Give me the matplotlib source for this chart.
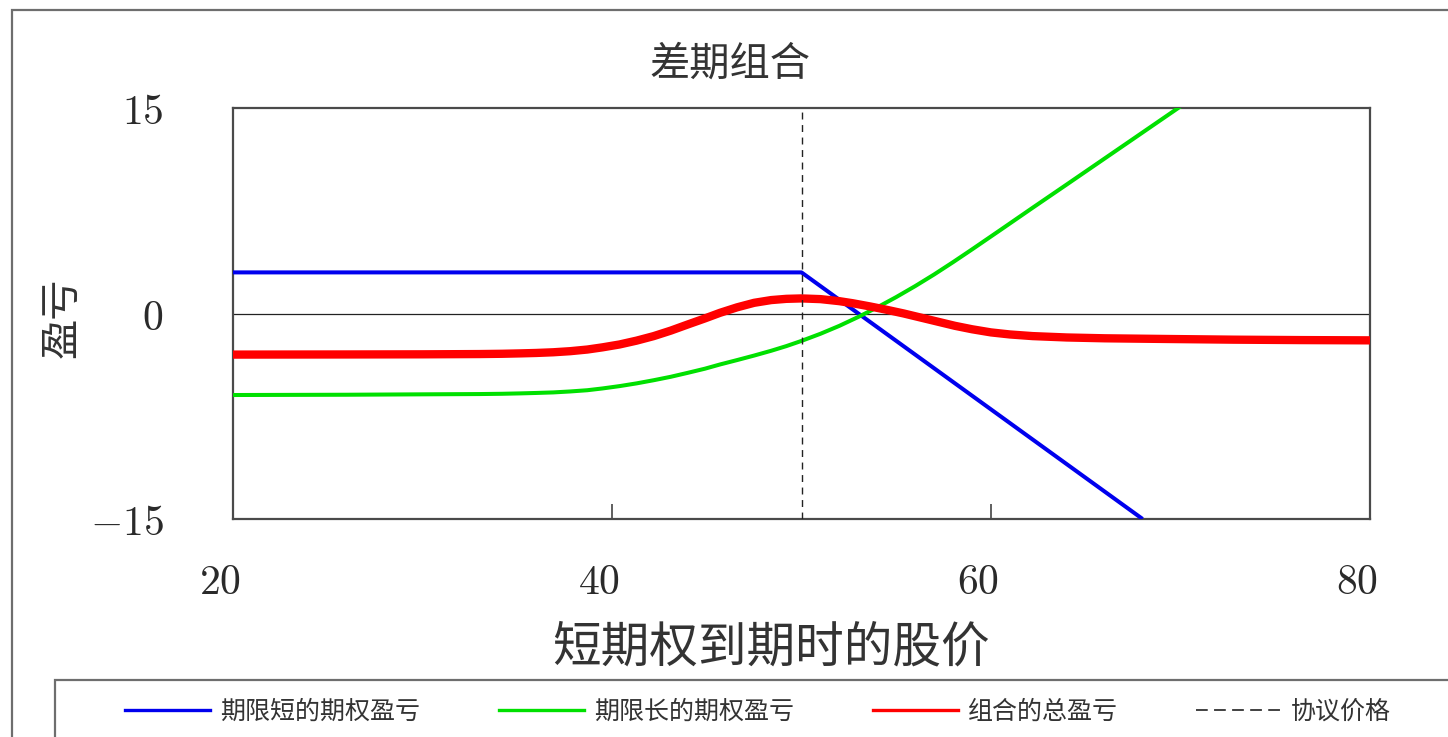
import matplotlib
matplotlib.use("Agg")
import matplotlib.pyplot as plt
from matplotlib.lines import Line2D
from matplotlib.patches import Rectangle
from matplotlib.transforms import ScaledTranslation

# data
strike = 50

x_short = [20, 50, 68]
short_pl = [3, 3, -15]

x_long = [20, 26, 30, 33, 34.2, 35.2, 36.0, 36.9, 37.8, 38.7, 39.5, 40.4, 41.3, 42.2, 43.1, 44.0, 44.9,
          45.7, 46.6, 47.5, 48.4, 49.2, 50.0, 51.0, 52.0, 53.0, 54.0, 55.0, 56.0, 57.0, 58.0,
          59.0, 60.5, 62.2, 64.0, 65.75, 67.5, 69.3, 70.3]
long_pl = [-5.95, -5.93, -5.9, -5.88, -5.86, -5.83, -5.8, -5.76, -5.69, -5.6, -5.47, -5.3, -5.1, -4.87, -4.62,
           -4.33, -4.03, -3.72, -3.4, -3.07, -2.72, -2.38, -2.0, -1.48, -0.9, -0.25, 0.45, 1.2, 2.0,
           2.85, 3.75, 4.68, 6.1, 7.72, 9.42, 11.08, 12.74, 14.45, 15.4]

x_total = [20, 26, 30, 33, 34.2, 35.2, 36.0, 36.9, 37.8, 38.7, 39.5, 40.4, 41.3, 42.2, 43.1, 44.0, 44.9,
           45.7, 46.6, 47.5, 48.4, 49.2, 50.0, 51.0, 52.0, 52.7, 53.6, 54.5, 55.4, 56.3, 57.2,
           58.1, 59.0, 60.0, 61.0, 62.2, 64.0, 66.0, 69.3, 72.8, 76.3, 80]
total_pl = [-3.0, -2.99, -2.98, -2.96, -2.94, -2.91, -2.88, -2.83, -2.75, -2.63, -2.47, -2.26, -1.98, -1.65,
            -1.25, -0.8, -0.36, 0.05, 0.45, 0.78, 0.98, 1.07, 1.1, 1.05, 0.9, 0.75, 0.52, 0.27, 0.0, -0.3,
            -0.6, -0.9, -1.15, -1.38, -1.53, -1.65, -1.75, -1.81, -1.86, -1.91, -1.94, -1.96]

x_ticks = [20, 40, 60, 80]
y_ticks = [-15, 0, 15]

title = "差期组合"
x_label = "短期权到期时的股价"
y_label = "盈亏"
legend_labels = ["期限短的期权盈亏", "期限长的期权盈亏", "组合的总盈亏", "协议价格"]

plt.rcParams['font.family'] = ['Noto Sans CJK SC', 'DejaVu Sans']
plt.rcParams['mathtext.fontset'] = 'cm'

W, H = 1448, 737
fig = plt.figure(figsize=(W / 100, H / 100), dpi=100)
fig.patch.set_facecolor("white")

# outer frame of the picture
fig.patches.append(Rectangle((12 / W, -0.2), 1.2, 1.2 - 10 / H, transform=fig.transFigure,
                             fill=False, edgecolor="#6e6e6e", lw=1.6, zorder=0))

ax = fig.add_axes([233 / W, 1 - 519 / H, (1370 - 233) / W, (519 - 108) / H])

blue = "#0000ee"
green = "#00e000"
red = "#ff0000"

ax.plot(x_short, short_pl, color=blue, lw=2.9, solid_capstyle="butt", zorder=3)
ax.plot(x_long, long_pl, color=green, lw=2.9, solid_capstyle="butt", zorder=3)
ax.plot(x_total, total_pl, color=red, lw=6.0, solid_capstyle="butt", zorder=4)
ax.axhline(0, color="#222222", lw=0.9, zorder=2)
ax.axvline(strike, color="#222222", lw=1.0, ls=(0, (5, 4)), zorder=5)

ax.set_xlim(20, 80)
ax.set_ylim(-15, 15)
ax.set_xticks(x_ticks)
ax.set_xticklabels([f"${t}$" for t in x_ticks])
ax.set_yticks(y_ticks)
ax.set_yticklabels([f"${t}$" for t in y_ticks])
ax.tick_params(axis="x", direction="in", length=11, width=1.2, color="#444444",
               labelsize=30, labelcolor="#2a2a2a", pad=31)
ax.tick_params(axis="y", length=0, labelsize=30, labelcolor="#2a2a2a", pad=50)
for lab in ax.get_xticklabels():
    lab.set_transform(lab.get_transform() + ScaledTranslation(-0.13, 0, fig.dpi_scale_trans))
for sp in ax.spines.values():
    sp.set_color("#4a4a4a")
    sp.set_linewidth(1.6)

fig.text(730 / W, 1 - 64 / H, title, ha="center", va="center", fontsize=29, color="#333333")
fig.text(771 / W, 1 - 648 / H, x_label, ha="center", va="center", fontsize=35, color="#333333")
fig.text(62 / W, 1 - 318 / H, y_label, ha="center", va="center", rotation=90,
         fontsize=29, color="#333333")

# legend box at the bottom
fig.patches.append(Rectangle((55 / W, -0.2), 1.2, 0.2 + 1 - 680 / H, transform=fig.transFigure,
                             fill=False, edgecolor="#6e6e6e", lw=1.6, zorder=0))
handles = [
    Line2D([], [], color=blue, lw=2.4),
    Line2D([], [], color=green, lw=2.4),
    Line2D([], [], color=red, lw=2.4),
    Line2D([], [], color="#333333", lw=1.3, ls=(0, (6.5, 3.5))),
]
fig.legend(handles, legend_labels, loc="center left", ncol=4, frameon=False,
           bbox_to_anchor=(115 / W, 1 - 712 / H), borderaxespad=0,
           fontsize=18, handlelength=3.4, handletextpad=0.4, columnspacing=3.15,
           labelcolor="#333333")

fig.savefig("out.png", dpi=100, facecolor="white")
